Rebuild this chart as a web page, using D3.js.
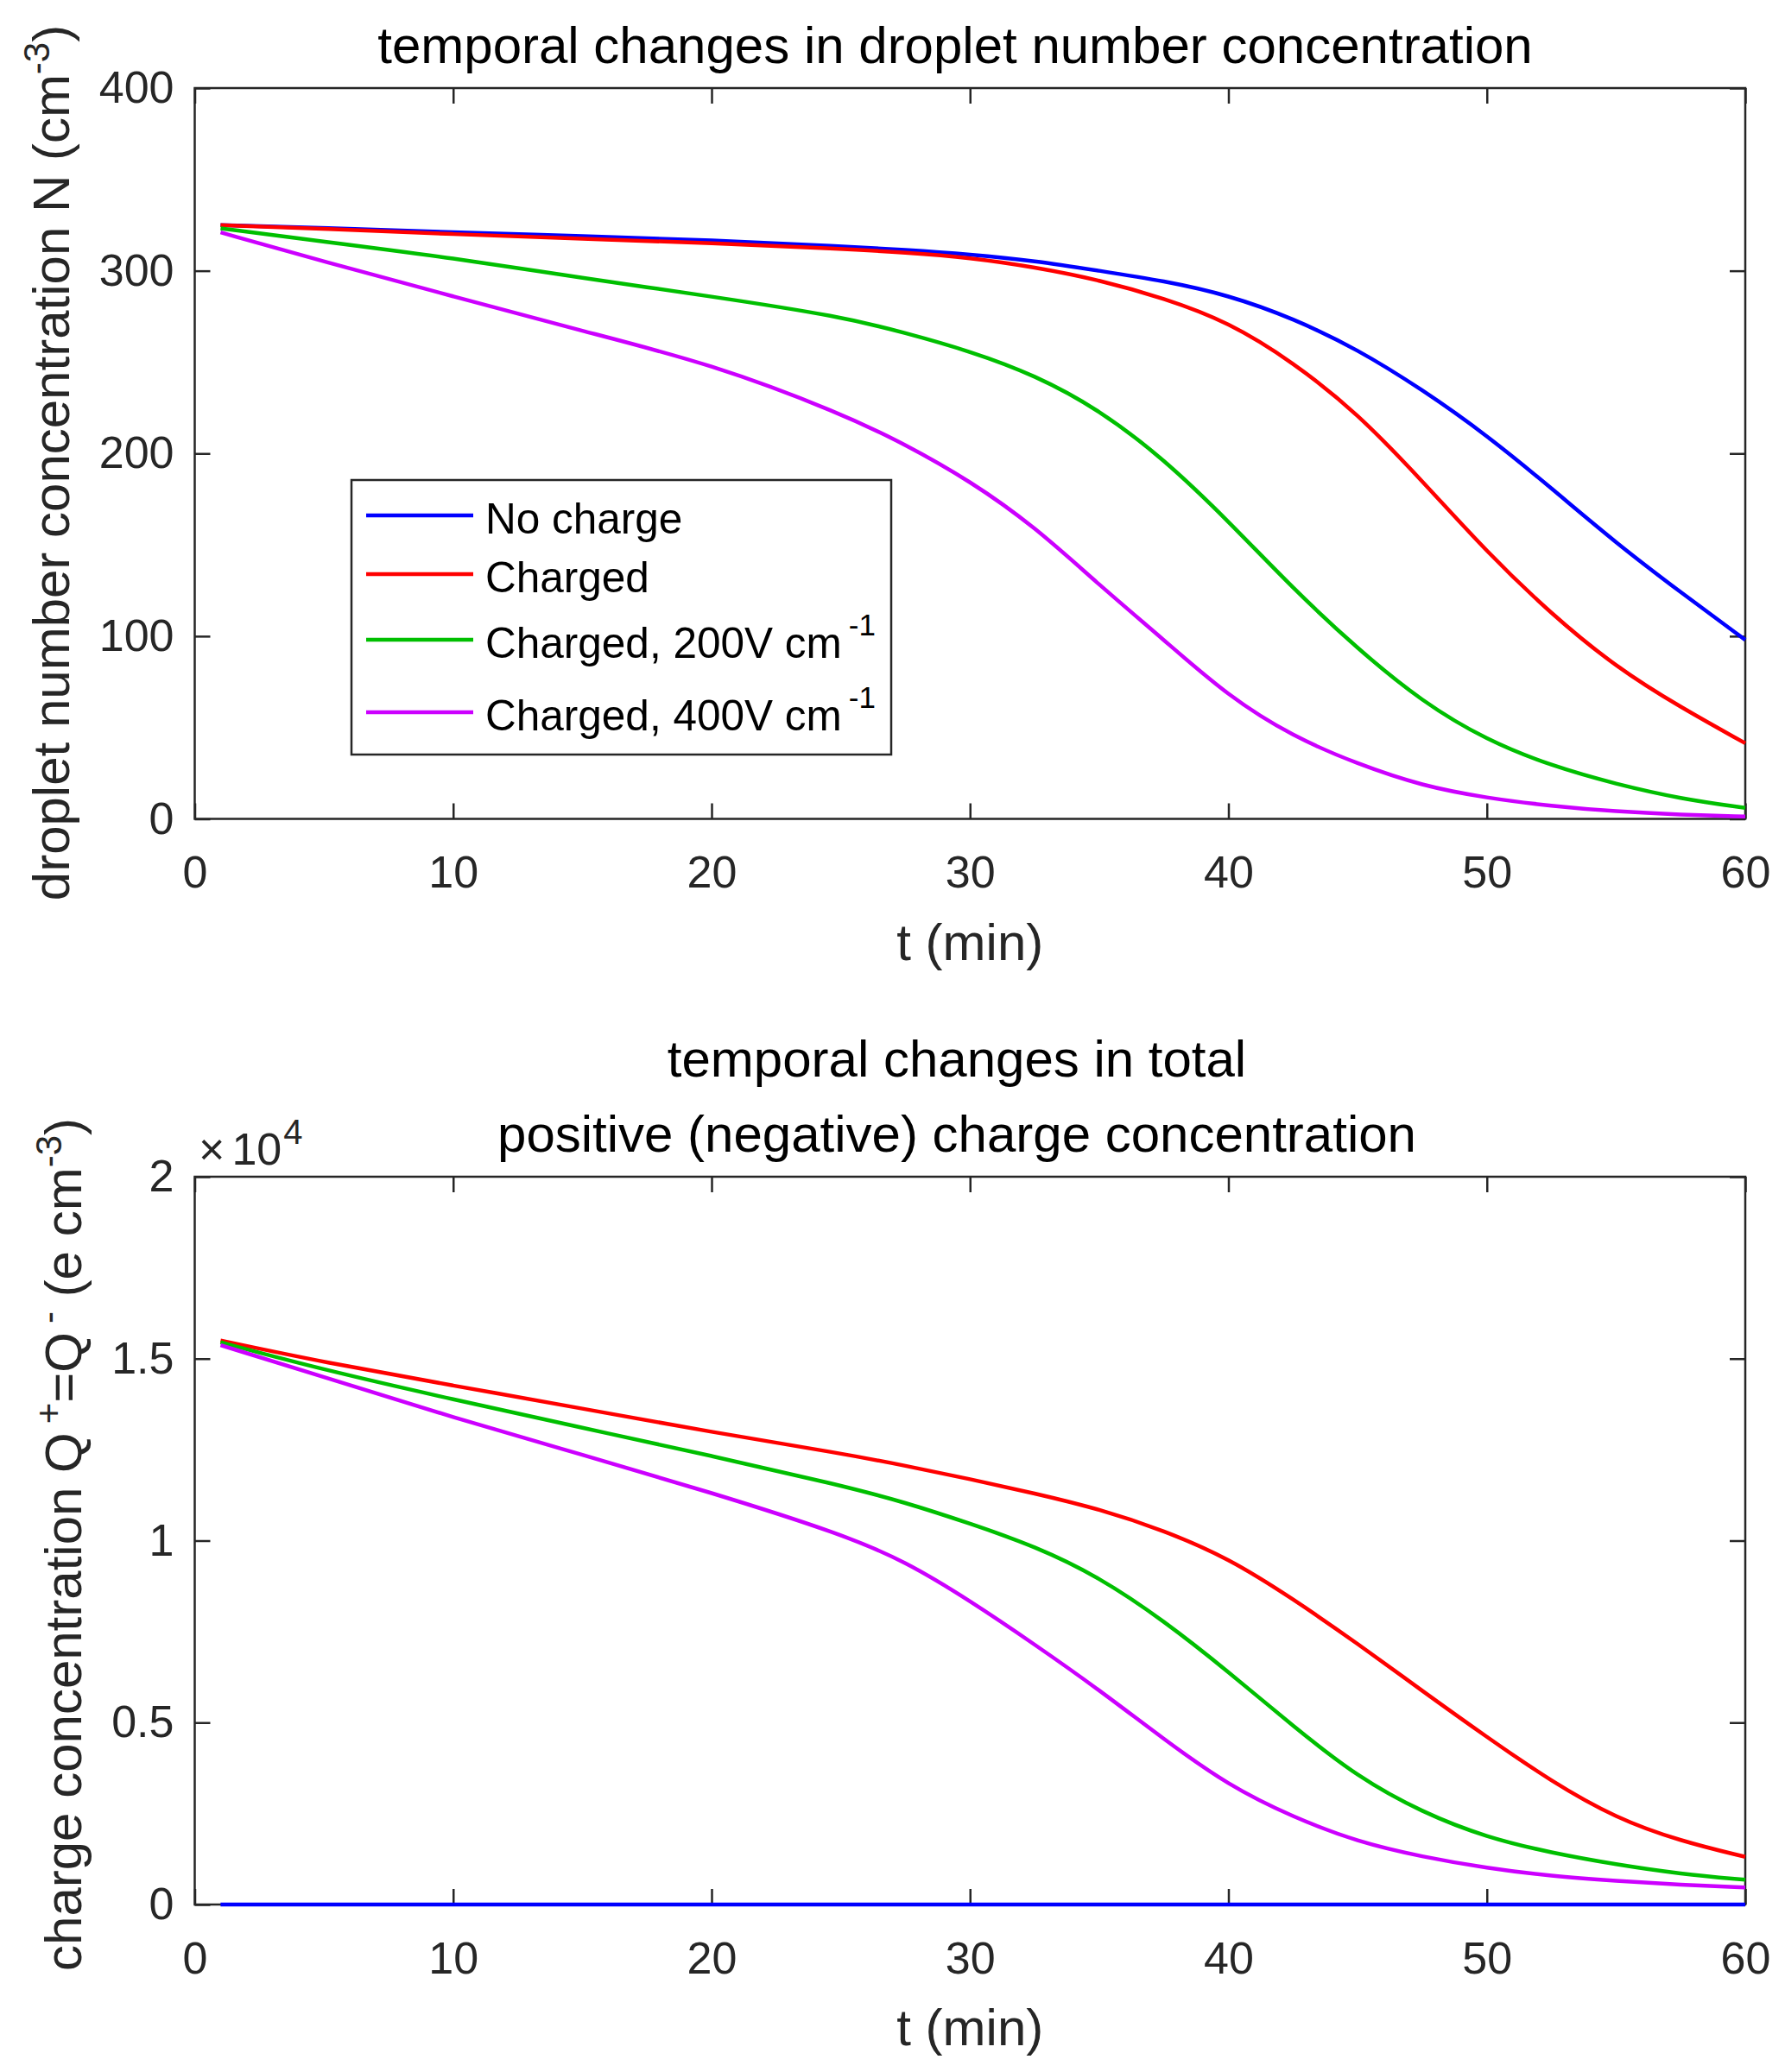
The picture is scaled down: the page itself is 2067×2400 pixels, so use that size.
<!DOCTYPE html>
<html>
<head>
<meta charset="utf-8">
<script src="https://cdn.jsdelivr.net/npm/d3@7"></script>
<style>
  body { margin: 0; background: #fff; }
  text { font-family: "Liberation Sans", Arial, Helvetica, sans-serif; }
</style>
</head>
<body>
<svg id="chart"></svg>
<script>
// time axis (min)
var tValues = [1, 5, 10, 15, 20, 25, 27.5, 30, 32.5, 35, 37.5, 40, 42.5, 45, 47.5, 50, 52.5, 55, 57.5, 60];

// droplet number concentration N (cm^-3)
var nNoCharge = [325, 323.5, 321, 319, 316.7, 313.5, 311.5, 309, 305.5, 300, 294.5, 286.7, 274, 257, 235, 210, 181, 151, 124, 98];
var nCharged = [325, 323, 320, 317.5, 315.2, 312, 310, 307.2, 302, 295, 285, 272, 250, 222, 185, 146, 112, 83, 61, 41.4];
var nField200 = [323.2, 316, 307, 296, 286, 275, 266, 256, 243, 224, 197, 163, 126, 93, 64, 43, 29, 19, 11, 6];
var nField400 = [321, 305, 286, 267, 249, 222, 205, 185, 160, 128, 98, 67, 45, 30, 18, 11.4, 7, 4, 2.3, 1.3];

// total charge concentration Q (x 1e4 e cm^-3)
var qNoCharge = [0, 0, 0, 0, 0, 0, 0, 0, 0, 0, 0, 0, 0, 0, 0, 0, 0, 0, 0, 0];
var qCharged = [1.550, 1.490, 1.426, 1.363, 1.298, 1.240, 1.206, 1.169, 1.130, 1.087, 1.028, 0.952, 0.840, 0.717, 0.587, 0.460, 0.338, 0.237, 0.174, 0.131];
var qField200 = [1.545, 1.469, 1.388, 1.310, 1.233, 1.152, 1.105, 1.047, 0.985, 0.900, 0.780, 0.640, 0.490, 0.350, 0.253, 0.184, 0.142, 0.110, 0.084, 0.068];
var qField400 = [1.537, 1.450, 1.338, 1.236, 1.132, 1.019, 0.943, 0.835, 0.715, 0.590, 0.454, 0.327, 0.240, 0.172, 0.131, 0.100, 0.078, 0.065, 0.054, 0.047];

var seriesNames = ["No charge", "Charged", "Charged, 200V cm", "Charged, 400V cm"];
var seriesSup = ["", "", "-1", "-1"];
var seriesColors = ["#0000ff", "#ff0000", "#00bf00", "#cc00ff"];

var xTicks = [0, 10, 20, 30, 40, 50, 60];
var nTicks = [0, 100, 200, 300, 400];
var qTicks = [0, 0.5, 1, 1.5, 2];
var qTickLabels = ["0", "0.5", "1", "1.5", "2"];

var width = 2067, height = 2400;
var AXIS_COLOR = "#262626";
var TICK_FONT = 52, LABEL_FONT = 60, TITLE_FONT = 60, LEGEND_FONT = 49.5;

var svg = d3.select("#chart").attr("width", width).attr("height", height);
svg.append("rect").attr("width", width).attr("height", height).attr("fill", "#fff");

function toRows(ys) {
  var rows = [];
  for (var i = 0; i < tValues.length; i++) rows.push({ t: tValues[i], v: ys[i] });
  return rows;
}

function drawPanel(cfg) {
  var g = svg.append("g");
  var xscale = d3.scaleLinear().domain([0, 60]).range([cfg.left, cfg.right]);
  var yscale = d3.scaleLinear().domain(cfg.yDomain).range([cfg.bottom, cfg.top]);

  var xaxis = d3.axisBottom(xscale).tickValues(xTicks).tickSizeInner(-18).tickSizeOuter(0).tickPadding(43);
  var xaxisTop = d3.axisTop(xscale).tickValues(xTicks).tickSizeInner(-18).tickSizeOuter(0).tickFormat("");
  var yaxis = d3.axisLeft(yscale).tickValues(cfg.yTicks).tickSizeInner(-18).tickSizeOuter(0).tickPadding(24)
    .tickFormat(cfg.yFormat);
  var yaxisRight = d3.axisRight(yscale).tickValues(cfg.yTicks).tickSizeInner(-18).tickSizeOuter(0).tickFormat("");

  var axes = [
    [xaxis, "translate(0," + cfg.bottom + ")"],
    [xaxisTop, "translate(0," + cfg.top + ")"],
    [yaxis, "translate(" + cfg.left + ",0)"],
    [yaxisRight, "translate(" + cfg.right + ",0)"]
  ];
  axes.forEach(function (a) {
    var ag = g.append("g").attr("transform", a[1]).call(a[0]);
    ag.select(".domain").remove();
    ag.selectAll(".tick line").attr("stroke", AXIS_COLOR).attr("stroke-width", 2.5);
    ag.selectAll(".tick text").attr("fill", AXIS_COLOR).style("font-size", TICK_FONT + "px")
      .style("font-family", '"Liberation Sans", Arial, sans-serif');
  });

  g.append("rect")
    .attr("x", cfg.left).attr("y", cfg.top)
    .attr("width", cfg.right - cfg.left).attr("height", cfg.bottom - cfg.top)
    .attr("fill", "none").attr("stroke", AXIS_COLOR).attr("stroke-width", 2.5);

  var valueline = d3.line()
    .x(function (d) { return xscale(d.t); })
    .y(function (d) { return yscale(d.v); })
    .curve(d3.curveBasis);

  cfg.series.forEach(function (s, i) {
    g.append("path")
      .attr("fill", "none")
      .attr("stroke", seriesColors[i])
      .attr("stroke-width", 4.5)
      .attr("stroke-linejoin", "round")
      .attr("d", valueline(toRows(s)));
  });

  // titles
  cfg.title.forEach(function (line, i) {
    g.append("text")
      .attr("x", cfg.titleX)
      .attr("y", cfg.titleY + i * 87)
      .attr("text-anchor", "middle")
      .attr("fill", "#000")
      .style("font-size", TITLE_FONT + "px")
      .text(line);
  });

  // x label
  g.append("text")
    .attr("x", (cfg.left + cfg.right) / 2)
    .attr("y", cfg.bottom + 163)
    .attr("text-anchor", "middle")
    .attr("fill", AXIS_COLOR)
    .style("font-size", LABEL_FONT + "px")
    .text("t (min)");

  // y label with superscripts
  var yl = g.append("text")
    .attr("text-anchor", "middle")
    .attr("transform", "translate(" + cfg.yLabelX + "," + cfg.yLabelY + ")rotate(-90)")
    .attr("fill", AXIS_COLOR)
    .style("font-size", LABEL_FONT + "px");
  var raised = 0;
  cfg.yLabel.forEach(function (part) {
    if (part.sup) {
      yl.append("tspan").attr("dy", -23 - raised).attr("dx", part.dx || 0)
        .style("font-size", "42px").text(part.sup);
      raised = -23;
    } else {
      yl.append("tspan").attr("dy", -raised).attr("dx", part.dx || 0).text(part.text);
      raised = 0;
    }
  });
  return { g: g, xscale: xscale, yscale: yscale };
}

// ---------- upper panel ----------
var upperPanel = drawPanel({
  left: 225.5, right: 2021, top: 102, bottom: 948.5,
  yDomain: [0, 400], yTicks: nTicks, yFormat: d3.format("d"),
  series: [nNoCharge, nCharged, nField200, nField400],
  title: ["temporal changes in droplet number concentration"],
  titleX: 1106, titleY: 73,
  yLabelX: 80, yLabelY: 536,
  yLabel: [{ text: "droplet number concentration N (cm" }, { sup: "-3" }, { text: ")" }]
});

// legend
var lg = upperPanel.g.append("g");
lg.append("rect").attr("x", 407).attr("y", 556).attr("width", 625).attr("height", 318)
  .attr("fill", "#fff").attr("stroke", AXIS_COLOR).attr("stroke-width", 2.5);
var rowY = 597;
seriesNames.forEach(function (name, i) {
  if (i > 0) rowY += 68 + (seriesSup[i - 1] ? 8 : 0) + (seriesSup[i] ? 8 : 0);
  lg.append("line").attr("x1", 424).attr("x2", 548).attr("y1", rowY).attr("y2", rowY)
    .attr("stroke", seriesColors[i]).attr("stroke-width", 4.5);
  var tx = lg.append("text").attr("x", 562).attr("y", rowY + 21).attr("fill", "#000")
    .style("font-size", LEGEND_FONT + "px");
  tx.append("tspan").text(name);
  if (seriesSup[i]) {
    tx.append("tspan").attr("dx", 8).attr("dy", -26).style("font-size", "35px").text(seriesSup[i]);
  }
});

// ---------- lower panel ----------
var lowerPanel = drawPanel({
  left: 225.5, right: 2021, top: 1363, bottom: 2206,
  yDomain: [0, 2], yTicks: qTicks,
  yFormat: function (d, i) { return qTickLabels[i]; },
  series: [qNoCharge, qCharged, qField200, qField400],
  title: ["temporal changes in total", "positive (negative) charge concentration"],
  titleX: 1108, titleY: 1247,
  yLabelX: 94, yLabelY: 1789,
  yLabel: [{ text: "charge concentration Q" }, { sup: "+", dx: 10 }, { text: "=Q" }, { sup: "-", dx: 10 },
    { text: " (e cm" }, { sup: "-3" }, { text: ")" }]
});

// exponent label
var ex = lowerPanel.g.append("text").attr("x", 230).attr("y", 1349).attr("fill", AXIS_COLOR)
  .style("font-size", TICK_FONT + "px");
ex.append("tspan").text("\u00d7");
ex.append("tspan").attr("dx", 8).text("10");
ex.append("tspan").attr("dx", 2).attr("dy", -24).style("font-size", "40px").text("4");
</script>
</body>
</html>
